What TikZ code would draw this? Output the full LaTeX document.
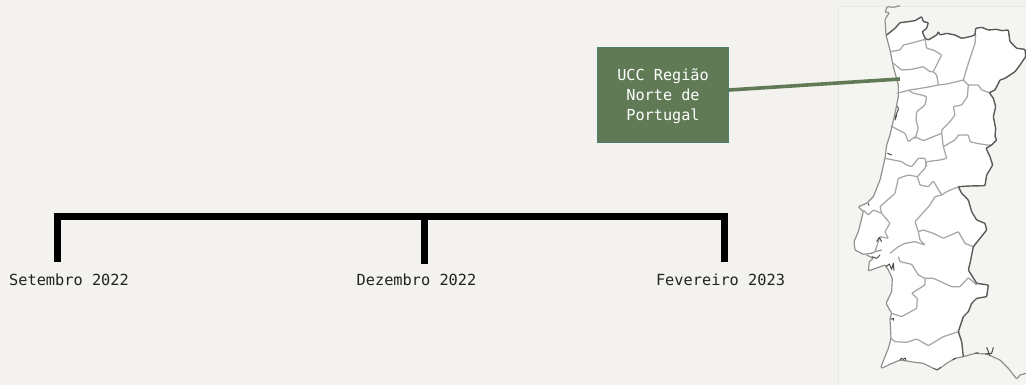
\documentclass[tikz,border=0pt]{standalone}
\usepackage{fontspec}
\setmainfont{DejaVu Sans Mono}
\definecolor{bg}{HTML}{F3F2EE}
\definecolor{panel}{HTML}{F4F4F1}
\definecolor{panelline}{HTML}{E9E9E5}
\definecolor{boxfill}{HTML}{5F7A55}
\definecolor{boxline}{HTML}{4F7F74}
\definecolor{inner}{HTML}{A6A6A6}
\definecolor{outer}{HTML}{5A5A5A}
\definecolor{txt}{HTML}{222222}
\tikzset{
  datelabel/.style={font=\fontsize{15.3}{20}\selectfont, text=txt, inner sep=0pt, anchor=center},
  regionbox/.style={fill=boxfill, draw=boxline, line width=1pt, minimum width=131pt, minimum height=95pt,
     align=center, text=white, inner sep=0pt, font=\fontsize{15.2}{20}\selectfont},
  tline/.style={line width=7pt, draw=black},
  leader/.style={line width=3.6pt, draw=boxfill},
  reg/.style={draw=inner, line width=1.25pt, line join=round, rounded corners=0.8pt},
  border/.style={draw=outer, line width=1.4pt, line join=round, rounded corners=0.8pt},
  coast/.style={draw=inner!85!black, line width=1.15pt, line join=round, rounded corners=0.8pt},
  marks/.style={draw=black!70, line width=1pt, line join=round}
}
\begin{document}
\begin{tikzpicture}[x=1pt,y=-1pt]
\useasboundingbox (0,0) rectangle (1026,385);
\fill[bg] (0,0) rectangle (1026,385);
\draw[panelline, fill=panel, line width=0.8pt] (838,6) -- (1027,6) -- (1027,386) -- (838,386) -- cycle;

% map
\begin{scope}[shift={(830,0)}, scale=0.33333]
\fill[white]
 (170,105) -- (195,85) -- (210,68) -- (235,65) -- (255,62) -- (275,50) -- (280,65) -- (295,68) -- (290,85) -- (277,95) -- (285,115) -- (295,120) -- (320,105) -- (325,95) -- (330,105) -- (350,100) -- (375,105) -- (395,115) -- (420,110) -- (435,105) -- (437,85) -- (455,82) -- (475,90) -- (500,88) -- (515,92) -- (535,90) -- (540,125) -- (560,145) -- (585,148) -- (587,170) -- (570,195) -- (555,215) -- (525,235) -- (510,240) -- (495,270) -- (478,278) -- (490,295) -- (497,320) -- (490,350) -- (497,385) -- (495,410) -- (500,420) -- (485,435) -- (468,445) -- (480,470) -- (488,495) -- (470,525) -- (465,557) -- (420,558) -- (385,560) -- (395,580) -- (415,600) -- (425,635) -- (440,660) -- (465,670) -- (470,690) -- (450,715) -- (430,740) -- (425,765) -- (420,790) -- (415,810) -- (440,850) -- (475,855) -- (470,890) -- (440,895) -- (425,910) -- (415,935) -- (400,950) -- (385,995) -- (395,1025) -- (400,1070) -- (375,1075) -- (350,1090) -- (330,1105) -- (310,1105) -- (280,1090) -- (255,1087) -- (230,1083) -- (210,1080) -- (175,1095) -- (155,1105) -- (153,1100) -- (175,1045) -- (183,1015) -- (180,955) -- (185,940) -- (168,910) -- (185,875) -- (187,835) -- (175,810) -- (165,795) -- (115,813) -- (118,785) -- (130,775) -- (110,765) -- (100,763) -- (75,750) -- (72,725) -- (85,695) -- (100,635) -- (85,620) -- (110,610) -- (130,590) -- (150,540) -- (165,475) -- (170,435) -- (180,405) -- (187,375) -- (195,340) -- (205,290) -- (205,255) -- (190,200) -- (180,150) -- cycle;

% coast (grey)
\draw[coast] (210,17) -- (190,22) -- (172,20) -- (165,36) -- (178,38) -- (165,58) -- (168,105) -- (180,150) -- (190,200) -- (205,255) -- (205,290) -- (195,340) -- (187,375) -- (180,405) -- (170,435) -- (165,475) -- (150,540) -- (130,590) -- (110,610) -- (85,620) -- (100,635) -- (85,695) -- (72,725) -- (75,750) -- (100,763) -- (125,760) -- (135,755) -- (155,750);
\draw[coast] (110,765) -- (130,775) -- (118,785) -- (115,813) -- (165,795) -- (175,810) -- (187,835) -- (185,875) -- (168,910) -- (185,940) -- (180,955) -- (183,1015) -- (175,1045) -- (153,1100) -- (155,1105) -- (175,1095) -- (210,1080) -- (230,1083) -- (255,1087) -- (280,1090) -- (310,1105);
\draw[coast] (400,1070) -- (435,1060) -- (470,1062) -- (510,1080) -- (535,1105) -- (560,1137) -- (570,1125) -- (588,1120);
\draw[coast] (330,1105) -- (350,1090) -- (375,1075) -- (400,1070);

% districts
\draw[reg] (180,155) -- (210,150) -- (220,135) -- (250,128) -- (285,118);
\draw[reg] (285,118) -- (290,145) -- (310,150) -- (335,165) -- (320,195) -- (310,215);
\draw[reg] (190,190) -- (215,210) -- (245,208) -- (280,200) -- (300,215) -- (310,215) -- (320,225) -- (325,255);
\draw[reg] (200,280) -- (240,270) -- (290,262) -- (325,255) -- (350,252) -- (380,245) -- (400,240) -- (415,255) -- (445,255) -- (455,270) -- (478,278);
\draw[reg] (400,240) -- (415,190) -- (435,130) -- (437,105);
\draw[reg] (415,255) -- (412,290) -- (395,315) -- (370,320) -- (375,345) -- (360,365) -- (335,390) -- (335,400) -- (340,440);
\draw[reg] (235,270) -- (250,280) -- (275,285) -- (290,290) -- (285,315) -- (260,335) -- (258,360) -- (265,385) -- (255,417);
\draw[reg] (183,378) -- (205,390) -- (225,400) -- (235,425) -- (255,410) -- (280,422) -- (335,400);
\draw[reg] (340,440) -- (375,420) -- (385,405) -- (415,405) -- (420,425) -- (440,430) -- (470,435) -- (485,435);
\draw[reg] (340,440) -- (350,475) -- (330,480) -- (290,485) -- (285,505) -- (262,530);
\draw[reg] (165,475) -- (215,485) -- (230,495) -- (245,500) -- (265,475) -- (285,475) -- (290,500);
\draw[reg] (262,530) -- (235,525) -- (205,535) -- (195,580) -- (150,620) -- (155,640) -- (130,630) -- (115,645) -- (100,630);
\draw[reg] (262,530) -- (270,555) -- (295,560) -- (310,543) -- (335,585);
\draw[reg] (385,560) -- (350,575) -- (335,585) -- (315,590) -- (300,615) -- (255,665) -- (265,695) -- (280,690) -- (310,700) -- (340,715) -- (385,695) -- (405,730) -- (430,740);
\draw[reg] (265,695) -- (270,720) -- (285,735) -- (255,725) -- (225,730) -- (205,740) -- (180,760);
\draw[reg] (155,640) -- (180,670) -- (165,695) -- (175,715) -- (150,710) -- (135,755);
\draw[reg] (205,770) -- (210,785) -- (245,793) -- (265,825) -- (285,835) -- (310,835) -- (365,860) -- (390,860) -- (415,833) -- (440,855);
\draw[reg] (285,835) -- (285,855) -- (245,880) -- (262,895) -- (260,925) -- (215,950) -- (185,940);
\draw[reg] (183,1015) -- (195,1025) -- (230,1027) -- (260,1017) -- (295,1037) -- (340,1010) -- (385,995);

% Spanish border (dark)
\draw[border] (170,105) -- (195,85) -- (210,68) -- (235,65) -- (255,62) -- (275,50) -- (280,65) -- (295,68) -- (290,85) -- (277,95) -- (285,115) -- (295,120) -- (320,105) -- (325,95) -- (330,105) -- (350,100) -- (375,105) -- (395,115) -- (420,110) -- (435,105) -- (437,85) -- (455,82) -- (475,90) -- (500,88) -- (515,92) -- (535,90) -- (540,125) -- (560,145) -- (585,148) -- (587,170) -- (570,195) -- (555,215) -- (525,235) -- (510,240) -- (495,270) -- (478,278) -- (490,295) -- (497,320) -- (490,350) -- (497,385) -- (495,410) -- (500,420) -- (485,435) -- (468,445) -- (480,470) -- (488,495) -- (470,525) -- (465,557) -- (420,558) -- (385,560) -- (395,580) -- (415,600) -- (425,635) -- (440,660) -- (465,670) -- (470,690) -- (450,715) -- (430,740) -- (425,765) -- (420,790) -- (415,810) -- (440,850) -- (475,855) -- (470,890) -- (440,895) -- (425,910) -- (415,935) -- (400,950) -- (385,995) -- (395,1025) -- (400,1070);

% dark marks (rias, estuaries)
\draw[marks] (203,318) -- (205,328) -- (198,345) -- (195,360) -- (200,345);
\draw[marks] (172,460) -- (185,465);
\draw[marks] (115,610) -- (117,617);
\draw[marks] (140,725) -- (148,712) -- (155,725);
\draw[marks] (168,800) -- (178,792) -- (185,808) -- (190,790) -- (192,812);
\draw[marks] (125,770) -- (140,775) -- (150,765);
\draw[marks] (182,958) -- (190,955) -- (190,962);
\draw[marks] (310,1105) -- (322,1110) -- (332,1102);
\draw[marks] (210,1080) -- (214,1075) -- (220,1078) -- (226,1074) -- (228,1082);
\draw[marks] (435,1060) -- (445,1058);
\draw[marks] (465,1062) -- (485,1060) -- (490,1042);
\draw[marks] (470,1042) -- (480,1068);
\draw[marks] (368,1080) -- (378,1074);
\end{scope}

% timeline
\coordinate (tl) at (57.5,216);
\coordinate (tm) at (424,216);
\coordinate (tr) at (724.5,216);
\coordinate (tle) at (57.5,262);
\coordinate (tme) at (424,264);
\coordinate (tre) at (724.5,262);
\draw[tline, line join=miter] (tle) -- (tl) -- (tr) -- (tre);
\draw[tline] (tm) -- (tme);
\node[datelabel] (l1) at (69,280) {Setembro 2022};
\node[datelabel] (l2) at (416.5,280) {Dezembro 2022};
\node[datelabel] (l3) at (720.5,280) {Fevereiro 2023};

% region box
\node[regionbox] (box) at (663,95) {\rule{0pt}{15pt}UCC Região\\Norte de\\Portugal};
\coordinate (boxout) at (729,90);
\coordinate (mapin) at (900,79);
\draw[leader] (boxout) -- (mapin);
\end{tikzpicture}
\end{document}
